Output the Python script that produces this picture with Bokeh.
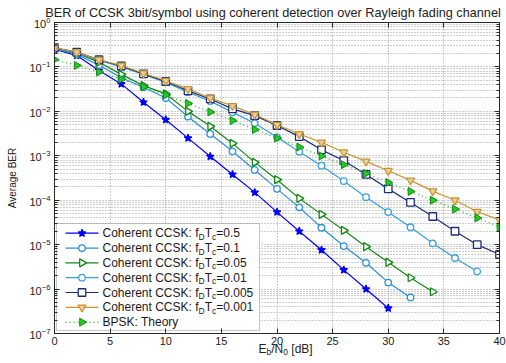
import numpy as np
from bokeh.plotting import figure
from bokeh.layouts import column
from bokeh.models import (LogAxis, LinearAxis, Label, BoxAnnotation,
                          FixedTicker, LogTickFormatter, CustomJSTickFormatter, ColumnDataSource)
from bokeh.embed import file_html
from bokeh.resources import INLINE

# ---------------- data ----------------
ebn0 = [0, 2, 4, 6, 8, 10, 12, 14, 16, 18, 20, 22, 24, 26, 28, 30, 32, 34, 36, 38, 40]

ber_fdtc_0p5 = [0.25, 0.18, 0.083, 0.0415, 0.016, 0.0065, 0.0025, 9.6e-4, 3.8e-4, 1.5e-4,
                5.4e-5, 2.0e-5, 7.6e-6, 2.7e-6, 1.0e-6, 3.7e-7]
ber_fdtc_0p1 = [0.26, 0.19, 0.11, 0.057, 0.035, 0.020, 0.0076, 0.0031, 0.00126, 4.8e-4,
                1.8e-4, 6.9e-5, 2.4e-5, 9.3e-6, 3.9e-6, 1.4e-6, 6.5e-7]
ber_fdtc_0p05 = [0.26, 0.2, 0.128, 0.068, 0.038, 0.0247, 0.010, 0.0046, 0.0019, 7.1e-4,
                 2.9e-4, 1.1e-4, 4.8e-5, 2.1e-5, 9.0e-6, 4.0e-6, 1.8e-6, 8.7e-7]
ber_fdtc_0p01 = [0.26, 0.205, 0.14, 0.10, 0.068, 0.045, 0.027, 0.017, 0.0095, 5.4e-3,
                 2.6e-3, 1.24e-3, 6.0e-4, 2.7e-4, 1.17e-4, 5.4e-5, 2.46e-5, 1.07e-5, 5.0e-6, 2.5e-6]
ber_fdtc_0p005 = [0.27, 0.215, 0.145, 0.105, 0.07, 0.047, 0.029, 0.019, 0.0114, 8.0e-3,
                  4.8e-3, 2.7e-3, 1.36e-3, 7.8e-4, 3.8e-4, 1.8e-4, 8.9e-5, 4.3e-5, 2.0e-5, 1.0e-5, 6.0e-6]
ber_fdtc_0p001 = [0.27, 0.215, 0.145, 0.108, 0.072, 0.049, 0.032, 0.020, 0.0133, 8.5e-3,
                  5.0e-3, 3.1e-3, 2.0e-3, 1.2e-3, 7.5e-4, 4.6e-4, 2.8e-4, 1.6e-4, 1.0e-4, 5.5e-5, 3.6e-5]
ber_bpsk_theory = [0.146, 0.108, 0.077, 0.053, 0.0355, 0.0233, 0.0151, 0.0097, 0.0062, 0.0039,
                   0.0025, 0.00157, 0.00099, 0.00063, 0.0004, 0.00025, 0.000158, 0.0001, 6.3e-5, 4.0e-5, 2.5e-5]

fdtc_labels = ["0.5", "0.1", "0.05", "0.01", "0.005", "0.001"]
x_ticks = [0, 5, 10, 15, 20, 25, 30, 35, 40]
y_ticks = [1e-7, 1e-6, 1e-5, 1e-4, 1e-3, 1e-2, 1e-1, 1e0]
title_text = "BER of CCSK 3bit/symbol using coherent detection over Rayleigh fading channel"
y_label = "Average BER"

# ---------------- layout ----------------
FONT = "Liberation Sans"
W, H = 506, 363
BL, BR, BT, BB = 54, 7, 22, 30
FW, FH = W - BL - BR, H - BT - BB
X0, X1 = 0.0, 40.0
LY0, LY1 = -7.0, 0.0
AX = "#2a2a2a"
GRID = "#9a9a9a"

p = figure(width=W, height=H, title=None, x_range=(X0, X1), y_range=(10 ** LY0, 10 ** LY1),
           y_axis_type="log", output_backend="svg", toolbar_location=None,
           min_border_left=BL, min_border_right=BR, min_border_top=BT, min_border_bottom=BB,
           background_fill_color="white", border_fill_color="white")
p.outline_line_color = AX
p.outline_line_width = 1

minor_y = [m * 10.0 ** e for e in range(-7, 0) for m in range(2, 10)]

def style_axis(ax, labels=True):
    ax.axis_line_color = AX
    ax.major_tick_line_color = AX
    ax.minor_tick_line_color = AX
    ax.major_tick_in = 5
    ax.major_tick_out = 0
    ax.minor_tick_in = 3
    ax.minor_tick_out = 0
    ax.major_label_text_font = FONT
    ax.major_label_text_font_size = "11px"
    ax.major_label_text_color = "#222222"
    ax.major_label_standoff = 4
    if not labels:
        ax.formatter = CustomJSTickFormatter(code="return ''")
        ax.major_label_standoff = 0
        ax.major_label_text_font_size = "0px"

xt = FixedTicker(ticks=x_ticks, minor_ticks=[])
yt = FixedTicker(ticks=y_ticks, minor_ticks=minor_y)

p.xaxis.ticker = xt
p.yaxis.ticker = yt
p.yaxis.formatter = LogTickFormatter()
style_axis(p.xaxis[0])
style_axis(p.yaxis[0])
p.xaxis.major_label_standoff = 3
p.yaxis.axis_label = y_label
p.yaxis.axis_label_text_font = FONT
p.yaxis.axis_label_text_font_size = "10px"
p.yaxis.axis_label_text_font_style = "normal"
p.yaxis.axis_label_text_color = "#222222"
p.yaxis.axis_label_standoff = 8

top_ax = LinearAxis(ticker=FixedTicker(ticks=x_ticks, minor_ticks=[]))
style_axis(top_ax, labels=False)
p.add_layout(top_ax, "above")
right_ax = LogAxis(ticker=FixedTicker(ticks=y_ticks, minor_ticks=minor_y))
style_axis(right_ax, labels=False)
p.add_layout(right_ax, "right")

p.xgrid.ticker = xt
p.ygrid.ticker = yt
for g in (p.xgrid[0], p.ygrid[0]):
    g.grid_line_color = GRID
    g.grid_line_dash = "1 2"
    g.grid_line_width = 1
p.ygrid.minor_grid_line_color = GRID
p.ygrid.minor_grid_line_dash = "1 2"

# ---------------- series ----------------
styles = [
    # colour, marker, fill, angle, size
    ("#0000ff", "star",              "#0000ff", 0,         8),
    ("#2c8fd8", "circle",            "white",   0,         6.5),
    ("#118811", "triangle",          "white",   -np.pi/2,  8),
    ("#3a9ee0", "circle",            "white",   0,         6.5),
    ("#1f2d78", "square",            "white",   0,         7.5),
    ("#c8952e", "inverted_triangle", "#e7cf9f", 0,         8),
]
all_series = [ber_fdtc_0p5, ber_fdtc_0p1, ber_fdtc_0p05, ber_fdtc_0p01, ber_fdtc_0p005, ber_fdtc_0p001]

for ys, (col, mk, fill, ang, sz) in zip(all_series, styles):
    src = ColumnDataSource(dict(x=ebn0[:len(ys)], y=ys))
    p.line("x", "y", source=src, line_color=col, line_width=1.2)
    p.scatter("x", "y", source=src, marker=mk, size=sz, angle=ang,
              line_color=col, fill_color=fill, line_width=1.3)

BPSK_LINE, BPSK_EDGE, BPSK_FILL = "#33bb33", "#118811", "#22cc22"
src_b = ColumnDataSource(dict(x=ebn0[:len(ber_bpsk_theory)], y=ber_bpsk_theory))
p.line("x", "y", source=src_b, line_color=BPSK_LINE, line_width=1.4, line_dash="1 3")
p.scatter("x", "y", source=src_b, marker="triangle", size=8, angle=-np.pi/2,
          line_color=BPSK_EDGE, fill_color=BPSK_FILL, line_width=1)

# ---------------- legend (drawn by hand in screen space) ----------------
def dx(sx):      # frame pixel -> data x
    return X0 + sx / FW * (X1 - X0)

def dy(sy):      # frame pixel (from bottom) -> data y on the log axis
    return 10 ** (LY0 + sy / FH * (LY1 - LY0))

LEG_L, LEG_R, LEG_B, LEG_T = 2, 205, 3, 110
ROW0, PITCH = 100.3, 14.83
GX0, GX1, TX = 11, 44, 48

p.add_layout(BoxAnnotation(left=LEG_L, right=LEG_R, bottom=LEG_B, top=LEG_T,
                           left_units="screen", right_units="screen",
                           bottom_units="screen", top_units="screen",
                           fill_color="white", fill_alpha=1, line_color="#404040",
                           line_width=1, level="underlay"))

for i, (col, mk, fill, ang, sz) in enumerate(styles):
    yy = dy(ROW0 - i * PITCH)
    p.line([dx(GX0), dx(GX1)], [yy, yy], line_color=col, line_width=1.2)
    p.scatter([dx((GX0 + GX1) / 2)], [yy], marker=mk, size=sz, angle=ang,
              line_color=col, fill_color=fill, line_width=1.3)
yy = dy(ROW0 - 6 * PITCH)
p.line([dx(GX0), dx(GX1)], [yy, yy], line_color=BPSK_LINE, line_width=1.4, line_dash="1 3")
p.scatter([dx((GX0 + GX1) / 2)], [yy], marker="triangle", size=8, angle=-np.pi/2,
          line_color=BPSK_EDGE, fill_color=BPSK_FILL, line_width=1)

# Arial / Liberation Sans advance widths (per 1000 em)
AW = {' ': 278, '.': 278, '/': 278, ':': 278, '=': 584, '[': 278, ']': 278,
      'B': 667, 'C': 722, 'D': 722, 'E': 667, 'K': 667, 'N': 722, 'P': 667, 'S': 667, 'T': 611,
      'b': 556, 'c': 500, 'e': 556, 'f': 278, 'h': 556, 'n': 556, 'o': 556, 'r': 333, 't': 278, 'y': 500}
for d in "0123456789":
    AW[d] = 556

def tw(s, size):
    return sum(AW.get(ch, 556) for ch in s) * size / 1000.0

def rich(fig, parts, x0, yc, size=12.0, sub_size=8.5, sub_drop=3.5, color="#1a1a1a"):
    x = x0
    for txt, is_sub in parts:
        fs = sub_size if is_sub else size
        lead = len(txt) - len(txt.lstrip(" "))
        x += tw(" " * lead, fs)
        txt = txt.lstrip(" ")
        fig.add_layout(Label(x=x, y=yc - (sub_drop if is_sub else 0), x_units="screen", y_units="screen",
                             text=txt, text_font=FONT, text_font_size=f"{fs}px", text_color=color,
                             text_baseline="middle", text_align="left", level="overlay"))
        x += tw(txt, fs)

for i, lab in enumerate(fdtc_labels):
    rich(p, [("Coherent CCSK: f", False), ("D", True), ("T", False), ("c", True), ("=" + lab, False)],
         TX, ROW0 - i * PITCH)
rich(p, [("BPSK: Theory", False)], TX, ROW0 - 6 * PITCH)

# ---------------- transparent overlay for texts outside the axes box ----------------
q = figure(width=W, height=H, title=None, x_range=(0, 1), y_range=(0, 1),
           output_backend="svg", toolbar_location=None, min_border=0,
           background_fill_alpha=0, border_fill_alpha=0)
q.axis.visible = False
q.grid.visible = False
q.outline_line_color = None
q.margin = (-H, 0, 0, 0)
QX = BL
for fig in (p, q):
    try:
        fig.frame_align = False
        QX = 0
    except Exception:
        QX = BL

# x-axis label with subscripts (canvas coords, origin bottom-left)
rich(q, [("E", False), ("b", True), ("/N", False), ("0", True), (" [dB]", False)], 258 - QX, H - 348,
     size=12.0, sub_size=8.5, sub_drop=3, color="#222222")

# title
q.add_layout(Label(x=272.5 - QX, y=H - 12.5, x_units="screen", y_units="screen", text=title_text,
                   text_font=FONT, text_font_size="12.7px", text_color="#222222",
                   text_align="center", text_baseline="middle", level="overlay"))

layout = column(p, q, spacing=0)
open("out.html", "w").write(file_html(layout, INLINE))
